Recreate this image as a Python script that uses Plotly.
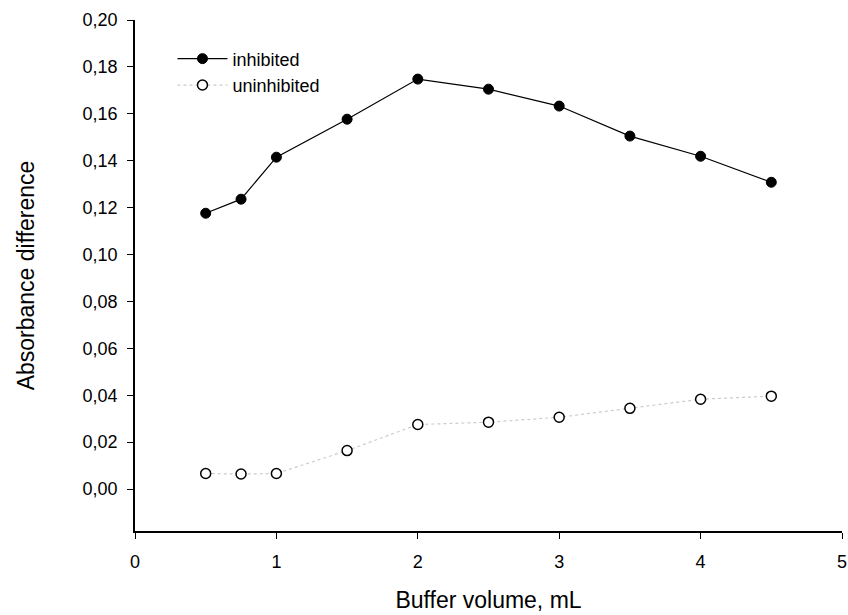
import plotly.graph_objects as go

buffer_volume = [0.5, 0.75, 1.0, 1.5, 2.0, 2.5, 3.0, 3.5, 4.0, 4.5]
inhibited = [0.1176, 0.1236, 0.1415, 0.1577, 0.1748, 0.1705, 0.1633, 0.1505, 0.1419, 0.1308]
uninhibited = [0.0066, 0.0064, 0.0066, 0.0164, 0.0275, 0.0285, 0.0306, 0.0344, 0.0383, 0.0396]
x_ticks = [0, 1, 2, 3, 4, 5]
y_ticks = [0, 0.02, 0.04, 0.06, 0.08, 0.10, 0.12, 0.14, 0.16, 0.18, 0.20]

fig = go.Figure()
fig.add_trace(go.Scatter(
    x=buffer_volume, y=inhibited, name="inhibited", mode="lines+markers",
    line=dict(color="black", width=1.2),
    marker=dict(symbol="circle", size=10, color="black", line=dict(color="black", width=1)),
))
fig.add_trace(go.Scatter(
    x=buffer_volume, y=uninhibited, name="uninhibited", mode="lines+markers",
    line=dict(color="#cccccc", width=1.2, dash="dot"),
    marker=dict(symbol="circle", size=10, color="white", line=dict(color="black", width=1.5)),
))

font_family = "Liberation Sans, Arial, sans-serif"
fig.update_layout(
    width=848, height=615,
    margin=dict(l=135, r=6, t=20, b=84),
    paper_bgcolor="white", plot_bgcolor="white",
    separators=",.",
    font=dict(family=font_family, size=18, color="black"),
    showlegend=True,
    legend=dict(x=0.053, y=0.96, xanchor="left", yanchor="top",
                bgcolor="rgba(0,0,0,0)", font=dict(family=font_family, size=18),
                tracegroupgap=0, itemwidth=50),
    xaxis=dict(range=[0, 5], tickvals=x_ticks, showgrid=False, zeroline=False,
               showline=True, linecolor="black", linewidth=1.5, automargin=False,
               ticks="outside", ticklen=6, tickcolor="black", tickwidth=1.2,
               ticklabelstandoff=8, tickfont=dict(family=font_family, size=18),
               title=dict(text="Buffer volume, mL", font=dict(family=font_family, size=23), standoff=21)),
    yaxis=dict(range=[-0.0179, 0.2], tickvals=y_ticks,
               tickformat=".2f", showgrid=False, zeroline=False,
               showline=True, linecolor="black", linewidth=1.5, automargin=False,
               ticks="outside", ticklen=6, tickcolor="black", tickwidth=1.2,
               ticklabelstandoff=6, tickfont=dict(family=font_family, size=18),
               title=dict(text="Absorbance difference", font=dict(family=font_family, size=23), standoff=42)),
)

fig.write_html("out.html", config={"displayModeBar": False},
               post_script="document.body.style.margin='0';document.body.style.padding='0';")
